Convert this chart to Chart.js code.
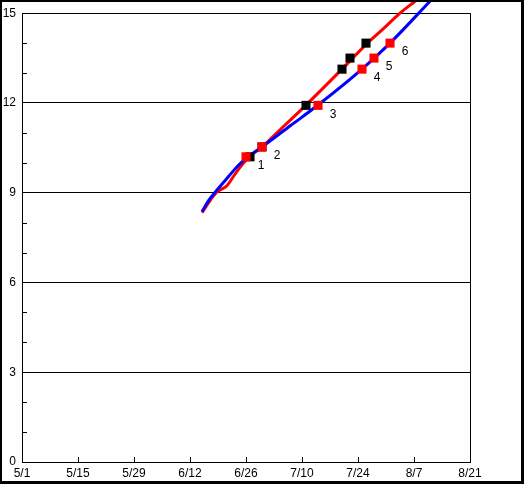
<!DOCTYPE html>
<html>
<head>
<meta charset="utf-8">
<script src="https://cdn.jsdelivr.net/npm/chart.js@4/dist/chart.umd.min.js"></script>
<style>
  body { margin: 0; background: #fff; }
  #chart { display: block; }
</style>
</head>
<body>
<canvas id="chart" width="524" height="484"></canvas>
<script>
// days counted from 5/1
var xTickLabels = ['5/1', '5/15', '5/29', '6/12', '6/26', '7/10', '7/24', '8/7', '8/21'];
var yTickValues = [0, 3, 6, 9, 12, 15];

var blueDays   = [45, 46.6, 48.25, 50.75, 53.25, 55.75, 60, 67, 74, 85, 92, 102];
var blueValues = [8.37, 8.73, 9.01, 9.4, 9.79, 10.12, 10.53, 11.23, 11.93, 13.13, 14.0, 15.4];

var redDays   = [45, 48.25, 49.5, 51.2, 53.25, 55.3, 56.8, 60, 65.5, 71, 80, 86, 90.5, 94.5, 98.25];
var redValues = [8.33, 8.96, 9.09, 9.23, 9.62, 9.98, 10.2, 10.53, 11.23, 11.93, 13.13, 13.95, 14.5, 15.0, 15.4];

var blackMarkDays   = [57, 60, 71, 80, 82, 86];
var blackMarkValues = [10.2, 10.53, 11.92, 13.13, 13.5, 14.0];

var redMarkDays   = [56, 60, 74, 85, 88, 92];
var redMarkValues = [10.2, 10.53, 11.92, 13.13, 13.5, 14.0];
var redMarkLabels = ['1', '2', '3', '4', '5', '6'];

function toPoints(xs, ys) {
    return xs.map(function(x, i) { return {x: x, y: ys[i]}; });
}

var FONT = {family: '"Liberation Sans", Arial, sans-serif', size: 12};

var framePlugin = {
    id: 'frame',
    beforeDraw: function(chart) {
        var ctx = chart.ctx;
        ctx.save();
        ctx.fillStyle = '#fff';
        ctx.fillRect(0, 0, chart.width, chart.height);
        ctx.restore();
    },
    beforeDatasetsDraw: function(chart) {
        var ctx = chart.ctx, a = chart.chartArea;
        var xs = chart.scales.x, ys = chart.scales.y;
        ctx.save();
        ctx.strokeStyle = '#000';
        ctx.lineWidth = 1;
        ctx.beginPath();
        // right edge of the plot
        ctx.moveTo(Math.round(a.right) + 0.5, a.top);
        ctx.lineTo(Math.round(a.right) + 0.5, a.bottom);
        // minor y ticks inside the plot
        for (var v = 1; v < 15; v++) {
            if (v % 3 === 0) continue;
            var py = Math.round(ys.getPixelForValue(v)) + 0.5;
            ctx.moveTo(a.left, py);
            ctx.lineTo(a.left + 5, py);
        }
        // x ticks inside the plot
        for (var i = 0; i < xTickLabels.length; i++) {
            var px = Math.round(xs.getPixelForValue(i * 14)) + 0.5;
            ctx.moveTo(px, a.bottom);
            ctx.lineTo(px, a.bottom - 5);
        }
        ctx.stroke();
        ctx.restore();
    },
    afterDatasetsDraw: function(chart) {
        var ctx = chart.ctx;
        var meta = chart.getDatasetMeta(0);
        ctx.save();
        ctx.fillStyle = '#000';
        ctx.font = FONT.size + 'px ' + FONT.family;
        ctx.textAlign = 'center';
        ctx.textBaseline = 'middle';
        meta.data.forEach(function(pt, i) {
            ctx.fillText(redMarkLabels[i], pt.x + 15, pt.y + 9);
        });
        ctx.restore();
    },
    afterDraw: function(chart) {
        var ctx = chart.ctx;
        ctx.save();
        ctx.fillStyle = '#000';
        ctx.fillRect(0, 0, chart.width, 2);
        ctx.fillRect(0, 0, 2, chart.height);
        ctx.fillRect(chart.width - 3, 0, 3, chart.height);
        ctx.fillRect(0, chart.height - 3, chart.width, 3);
        ctx.restore();
    }
};

var config = {
    type: 'scatter',
    data: {
        datasets: [{
            label: 'red marks',
            data: toPoints(redMarkDays, redMarkValues),
            showLine: false,
            pointStyle: 'rect',
            pointRadius: 6.4,
            backgroundColor: '#ff0000',
            borderWidth: 0,
            clip: false,
            order: 0
        }, {
            label: 'black marks',
            data: toPoints(blackMarkDays, blackMarkValues),
            showLine: false,
            pointStyle: 'rect',
            pointRadius: 6.4,
            backgroundColor: '#000000',
            borderWidth: 0,
            clip: false,
            order: 1
        }, {
            label: 'blue',
            data: toPoints(blueDays, blueValues),
            showLine: true,
            borderColor: '#0000ff',
            borderWidth: 3,
            pointRadius: 0,
            cubicInterpolationMode: 'monotone',
            clip: false,
            order: 2
        }, {
            label: 'red',
            data: toPoints(redDays, redValues),
            showLine: true,
            borderColor: '#ff0000',
            borderWidth: 3,
            pointRadius: 0,
            cubicInterpolationMode: 'monotone',
            clip: false,
            order: 3
        }]
    },
    options: {
        responsive: false,
        animation: false,
        events: [],
        layout: { padding: {left: 0, top: 12, right: 54, bottom: 0} },
        plugins: { legend: {display: false}, tooltip: {enabled: false} },
        scales: {
            x: {
                type: 'linear',
                min: 0,
                max: 112,
                afterFit: function(s) { s.height = 22; },
                afterBuildTicks: function(s) {
                    s.ticks = xTickLabels.map(function(l, i) { return {value: i * 14}; });
                },
                ticks: {
                    autoSkip: false,
                    maxRotation: 0,
                    padding: 4,
                    color: '#000',
                    font: FONT,
                    callback: function(v) { return xTickLabels[Math.round(v / 14)]; }
                },
                grid: { display: false, drawTicks: false },
                border: { display: true, color: '#000', width: 1 }
            },
            y: {
                min: 0,
                max: 15,
                afterFit: function(s) { s.width = 22; },
                afterBuildTicks: function(s) {
                    s.ticks = yTickValues.map(function(v) { return {value: v}; });
                },
                ticks: {
                    padding: 6,
                    color: '#000',
                    font: FONT
                },
                grid: { color: '#000', lineWidth: 1, drawTicks: false },
                border: { display: true, color: '#000', width: 1 }
            }
        }
    },
    plugins: [framePlugin]
};

var chart = new Chart(document.getElementById('chart'), config);
</script>
</body>
</html>
